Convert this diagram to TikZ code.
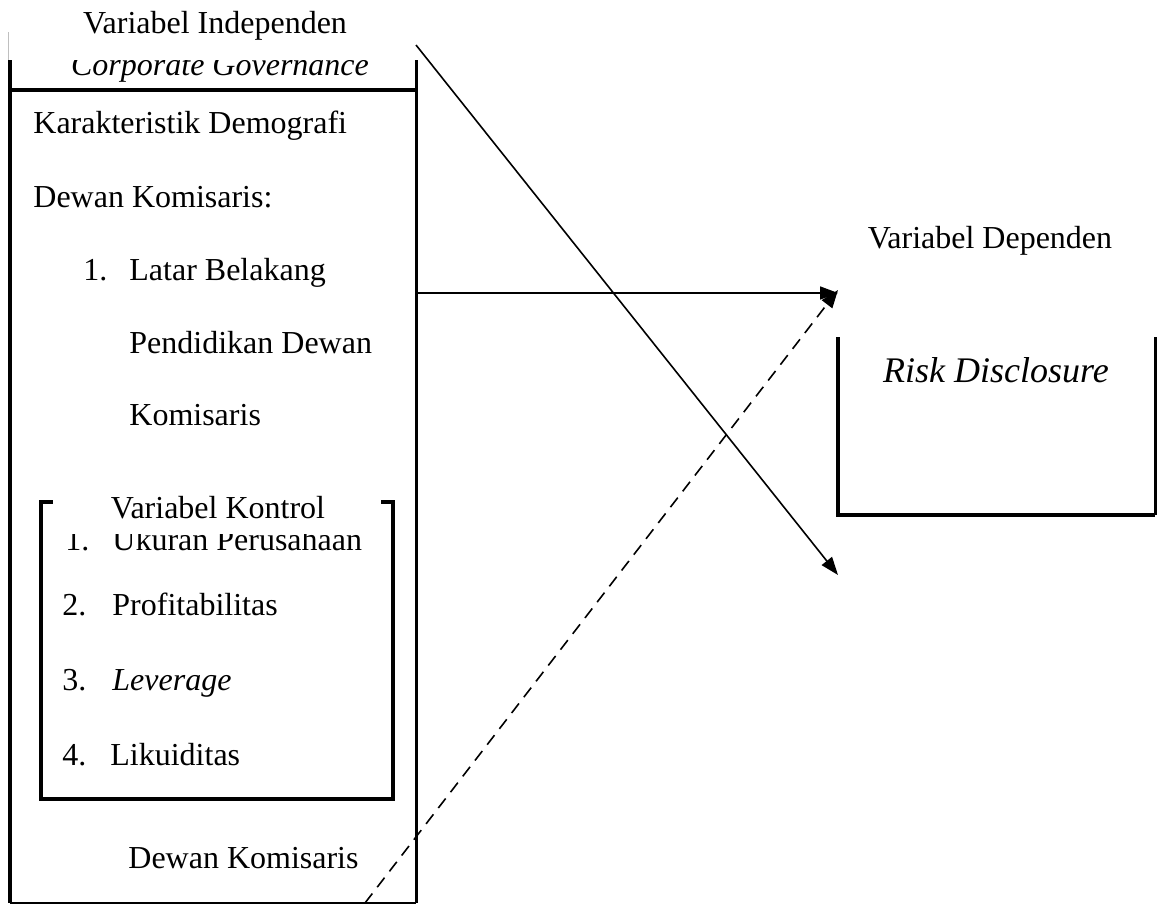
\documentclass[tikz,border=0pt]{standalone}
\usepackage{fontspec}
\setmainfont{Liberation Serif}
\usetikzlibrary{arrows.meta}

\begin{document}
\begin{tikzpicture}[x=0.5pt,y=-0.5pt,
  txt/.style={anchor=base west,inner sep=0pt,font=\fontsize{16}{19}\selectfont},
  head/.style={anchor=base,inner sep=0pt,font=\fontsize{16}{19}\selectfont},
  thickline/.style={line width=2pt},
  arr/.style={line width=0.8pt,-{Triangle[length=9pt,width=6.5pt]}}]

    \useasboundingbox (0,0) rectangle (1157,905);

    % kotak variabel independen
    \draw[line width=1.1pt] (10,903) -- (416,903);
    \draw[thickline] (10,30) -- (10,903);
    \draw[line width=1.5pt] (416,30) -- (416,903);
    \draw[thickline] (10,90) -- (416,90);

    \node[head, font=\fontsize{16}{19}\selectfont\itshape] (cg) at (220,75) {Corporate Governance};
    \node[txt] (kd) at (33,133) {Karakteristik Demografi};
    \node[txt] (dk) at (33,207) {Dewan Komisaris:};
    \node[txt] (n1) at (83,280) {1.};
    \node[txt] (lb) at (129,280) {Latar Belakang};
    \node[txt] (pd) at (129,353) {Pendidikan Dewan};
    \node[txt] (km) at (129,425) {Komisaris};
    \node[txt] (dk2) at (128,868) {Dewan Komisaris};

    % kotak variabel kontrol
    \draw[thickline, fill=white] (41,502) rectangle (393,799);
    \node[txt] (k1) at (65,550) {1.};
    \node[txt] (uk) at (112,550) {Ukuran Perusahaan};
    \fill[white] (53,496) rectangle (381,534);
    \node[head] (vk) at (218,518) {Variabel Kontrol};
    \node[txt] (k2) at (62,615) {2.};
    \node[txt] (pr) at (112,615) {Profitabilitas};
    \node[txt] (k3) at (62,690) {3.};
    \node[txt, font=\fontsize{16}{19}\selectfont\itshape] (lv) at (112,690) {Leverage};
    \node[txt] (k4) at (62,765) {4.};
    \node[txt] (lk) at (110,765) {Likuiditas};

    % judul independen
    \fill[white] (7,0) rectangle (421,60);
    \draw[gray!50, line width=0.4pt] (8,32) -- (8,60);
    \node[head] (vi) at (215,33) {Variabel Independen};

    % kotak variabel dependen
    \draw[thickline] (838,337) -- (838,515) -- (1155,515);
    \draw[line width=1.5pt] (1155,515) -- (1155,337);
    \node[head] (vd) at (990,248) {Variabel Dependen};
    \node[anchor=base, inner sep=0pt, font=\fontsize{18}{21}\selectfont\itshape] (rd) at (996,382) {Risk Disclosure};

    % panah
    \coordinate (a1) at (418,293);
    \coordinate (a2) at (838,293);
    \coordinate (b1) at (416,45);
    \coordinate (b2) at (838,575);
    \coordinate (c1) at (365,903);
    \coordinate (c2) at (838,290);
    \draw[arr] (a1) -- (a2);
    \draw[arr] (b1) -- (b2);
    \draw[arr, dashed, dash pattern=on 6pt off 4pt] (c1) -- (c2);
\end{tikzpicture}
\end{document}
